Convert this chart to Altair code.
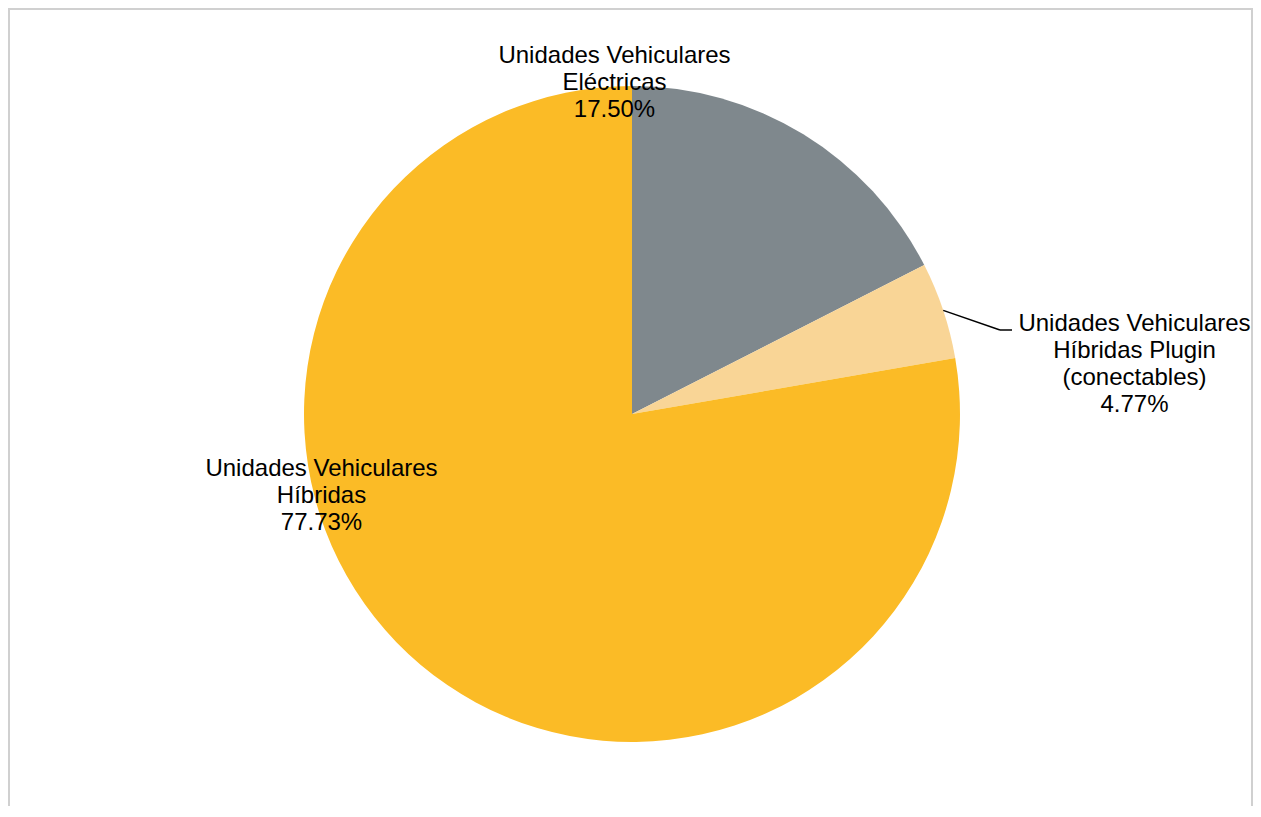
import altair as alt

# ---- data ----
categories = [
    "Unidades Vehiculares\nEléctricas",
    "Unidades Vehiculares\nHíbridas Plugin\n(conectables)",
    "Unidades Vehiculares\nHíbridas",
]
shares = [17.50, 4.77, 77.73]
colors = ["#7f888d", "#f9d596", "#fbbb26"]

rows = [
    {"idx": i, "cat": c, "share": s, "lines": c.split("\n") + [f"{s:.2f}%"]}
    for i, (c, s) in enumerate(zip(categories, shares))
]
data = alt.Data(values=rows)

W, H = 1245, 798
CX, CY, R = 624, 406, 328
FONT = "Liberation Sans"

base = alt.Chart(data)

pie = base.mark_arc(outerRadius=R).encode(
    theta=alt.Theta("share:Q", stack=True),
    order=alt.Order("idx:Q"),
    color=alt.Color("cat:N", scale=alt.Scale(domain=categories, range=colors), legend=None),
    x=alt.value(CX),
    y=alt.value(CY),
)

label_pos = {0: (606.5, 55), 1: (1126.5, 323), 2: (313.5, 468)}
labels = []
for i, (lx, ly) in label_pos.items():
    labels.append(
        base.transform_filter(f"datum.idx == {i}")
        .mark_text(font=FONT, fontSize=24, lineHeight=27, align="center",
                   baseline="alphabetic", color="#000000")
        .encode(text=alt.Text("lines:N"), x=alt.value(lx), y=alt.value(ly))
    )

leader = (
    base.transform_window(cum="sum(share)", sort=[{"field": "idx"}], frame=[None, 0])
    .transform_calculate(
        ang="(datum.cum - datum.share / 2) / 100 * 2 * PI",
    )
    .transform_calculate(
        lx=f"{CX} + {R} * sin(datum.ang)",
        ly=f"{CY} - {R} * cos(datum.ang)",
    )
    .transform_filter("datum.idx == 1")
    .mark_rule(color="#000000", strokeWidth=1.5)
    .encode(
        x=alt.X("lx:Q", scale=None),
        y=alt.Y("ly:Q", scale=None),
        x2=alt.value(992),
        y2=alt.value(322),
    )
)
leader_h = alt.Chart(alt.Data(values=[{}])).mark_rule(color="#000000", strokeWidth=1.5).encode(
    x=alt.value(992), x2=alt.value(1004), y=alt.value(322)
)

one = alt.Data(values=[{}])
border_col = "#d0d0d0"
b_left = alt.Chart(one).mark_rule(color=border_col, strokeWidth=2).encode(
    x=alt.value(1), y=alt.value(0), y2=alt.value(H))
b_top = alt.Chart(one).mark_rule(color=border_col, strokeWidth=2).encode(
    x=alt.value(0), x2=alt.value(W), y=alt.value(1))
b_right = alt.Chart(one).mark_rule(color=border_col, strokeWidth=2).encode(
    x=alt.value(W - 1), y=alt.value(0), y2=alt.value(H))

chart = (
    alt.layer(pie, leader, leader_h, *labels, b_left, b_top, b_right)
    .properties(width=W, height=H, padding=0, autosize=alt.AutoSizeParams(type="none"),
                background="white")
    .configure_view(stroke=None)
)

chart.save("out.html", embed_options={"renderer": "svg", "actions": False})
